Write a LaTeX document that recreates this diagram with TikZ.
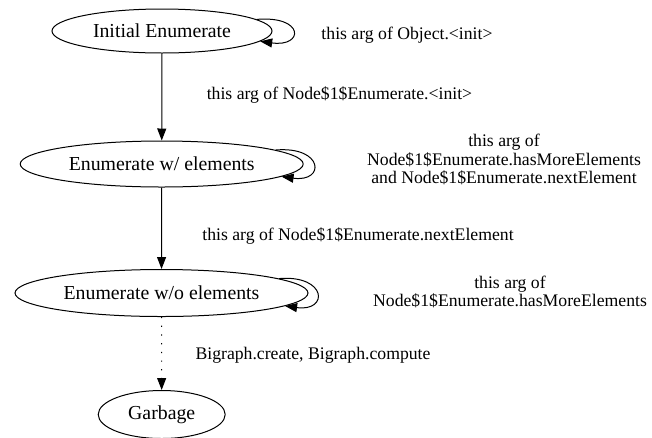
\documentclass[tikz,border=0pt]{standalone}
\usepackage{fontspec}
\setmainfont{Liberation Serif}
\usetikzlibrary{arrows.meta,shapes.geometric}
\begin{document}
\begin{tikzpicture}[x=1pt,y=-1pt,
  st/.style={ellipse,draw,line width=1pt,inner sep=0pt,font=\fontsize{19.8}{22}\selectfont},
  lbl/.style={align=center,inner sep=0pt,font=\fontsize{17.7}{18.3}\selectfont},
  arr/.style={line width=1pt,-{Triangle[length=12pt,width=9pt]}}]
\path[use as bounding box] (0,0) rectangle (652,437);
\node[st,minimum width=220pt,minimum height=44pt] (a) at (162,31) {Initial Enumerate};
\node[st,minimum width=283pt,minimum height=46pt] (b) at (161.7,164) {Enumerate w/ elements};
\node[st,minimum width=293pt,minimum height=47pt] (c) at (161.5,293) {Enumerate w/o elements};
\node[st,minimum width=127pt,minimum height=48pt] (d) at (161.7,414.5) {Garbage};
\draw[arr] (a.7) .. controls +(48,-4) and +(44,6) .. (a.-6);
\draw[arr] (b.7) .. controls +(48,-4) and +(44,6) .. (b.-6);
\draw[arr] (c.7) .. controls +(48,-4) and +(44,6) .. (c.-6);
\draw[arr] (a) -- (b);
\draw[arr] (b) -- (c);
\draw[arr,dash pattern=on 1.2pt off 7.5pt] (c) -- (d);
\node[lbl,anchor=base] (la) at (407,39) {this arg of Object.<init>};
\node[lbl,anchor=base] (lab) at (339.5,99) {this arg of Node\$1\$Enumerate.<init>};
\node[lbl] (lb) at (504,159.5) {this arg of\\Node\$1\$Enumerate.hasMoreElements\\and Node\$1\$Enumerate.nextElement};
\node[lbl,anchor=base] (lbc) at (358,240) {this arg of Node\$1\$Enumerate.nextElement};
\node[lbl] (lc) at (510,292) {this arg of\\Node\$1\$Enumerate.hasMoreElements};
\node[lbl,anchor=base] (lcd) at (313,359) {Bigraph.create, Bigraph.compute};
\end{tikzpicture}
\end{document}
